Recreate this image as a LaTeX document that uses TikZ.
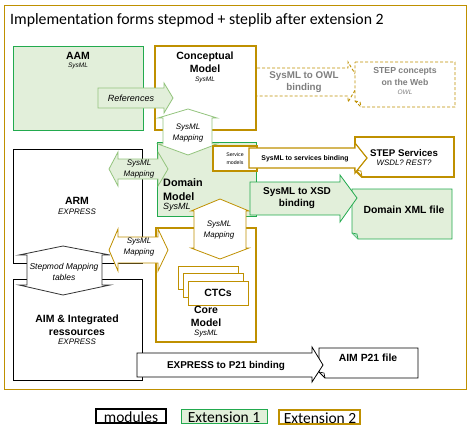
\documentclass[tikz,border=0pt]{standalone}
\usepackage{fontspec}
\setmainfont{Liberation Sans}
\newfontfamily\calibri[Ligatures=NoCommon]{Carlito}
\usetikzlibrary{positioning}
\definecolor{extGold}{HTML}{BF9000}
\definecolor{extGreen}{HTML}{22AA4E}
\definecolor{lightGreen}{HTML}{E2EFDA}
\definecolor{arrowGreen}{HTML}{93C47D}
\definecolor{webGray}{HTML}{7F7F7F}
\newcommand{\fs}[2]{\fontsize{#1}{#2}\selectfont}

\begin{document}
\begin{tikzpicture}[x=1pt,y=-1pt,
  modbox/.style={draw=black,fill=white,line width=0.8pt},
  extone/.style={draw=extGreen,fill=lightGreen,line width=0.8pt},
  exttwo/.style={draw=extGold,fill=white,line width=1.8pt},
  webline/.style={draw=extGold,line width=0.9pt,dash pattern=on 3pt off 2pt},
  txt/.style={inner sep=0pt,align=center},
  bold/.style={txt,font=\bfseries\fs{10.5}{13}},
  typ/.style={txt,font=\itshape\fs{6.5}{8}},
  maplbl/.style={txt,font=\itshape\fs{8}{11}}]
\useasboundingbox (0,0) rectangle (470,434);

% frame and title
\draw[extGold,line width=0.8pt] (4,5) rectangle (466,389);
\node[anchor=base west,inner sep=0pt,font=\calibri\fs{15.8}{18}] (title) at (10,24)
  {Implementation forms stepmod + steplib after extension 2};

% top row
\draw[extone] (13,46) rectangle (143,130);
\node[bold] (aam) at (78,56) {AAM};
\node[typ] (aamlang) at (78,66) {SysML};
\draw[exttwo] (155,46) rectangle (256,130);
\node[bold] (concept) at (205,62.5) {Conceptual\\Model};
\node[typ] (conceptlang) at (205,80) {SysML};

% web binding (dashed)
\draw[webline,fill=white] (257,68) -- (348,68) -- (348,62) -- (360,82) -- (348,102) -- (348,96) -- (257,96);
\draw[webline,fill=white] (355,62) -- (455,62) -- (455,107) -- (361,107) -- (355,101) -- cycle;
\draw[webline] (355,101) -- (360,102) -- (361,107);
\node[txt,text=webGray,font=\bfseries\fs{9.8}{12}] (owlbind) at (304,82) {SysML to OWL\\binding};
\node[txt,text=webGray,font=\bfseries\fs{8.7}{12}] (web) at (405,77) {STEP concepts\\on the Web};
\node[typ,text=webGray] (weblang) at (405,92) {OWL};

% references
\draw[draw=arrowGreen,fill=lightGreen,line width=0.8pt]
  (98,88) -- (164,88) -- (164,83) -- (173,98) -- (164,113) -- (164,108) -- (98,108) -- cycle;
\node[txt,font=\itshape\fs{9}{11}] (refs) at (131,98) {References};

% middle row
\draw[extone] (157,142) rectangle (256,216);
\node[bold,anchor=west,align=left,font=\bfseries\fs{10.8}{14}] (domain) at (163,190) {Domain\\Model};
\node[txt,anchor=west,font=\itshape\fs{9}{11}] (domainlang) at (163,207) {SysML};
\draw[modbox] (13,149) rectangle (142,263);
\node[bold] (arm) at (77,201) {ARM};
\node[txt,font=\itshape\fs{8}{10}] (armlang) at (77,212) {EXPRESS};

% bottom row
\draw[modbox] (13,279) rectangle (142,380);
\node[bold] (aim) at (77,325.5) {AIM \& Integrated\\ressources};
\node[txt,font=\itshape\fs{8}{10}] (aimlang) at (77,342) {EXPRESS};
\draw[exttwo] (156,228) rectangle (256,342);
\draw[extGold,fill=white,line width=0.8pt] (178,266) rectangle (238,289);
\draw[extGold,fill=white,line width=0.8pt] (183,273) rectangle (243,297);
\draw[extGold,fill=white,line width=0.8pt] (188,281) rectangle (248,305);
\node[bold,font=\bfseries\fs{10.5}{12}] (ctc) at (218,293) {CTCs};
\node[bold] (core) at (206,316.5) {Core\\Model};
\node[txt,font=\itshape\fs{7.8}{10}] (corelang) at (206,334) {SysML};

% mapping arrows
\draw[draw=arrowGreen,fill=white,line width=0.8pt]
  (188,109) -- (217,118) -- (212,118) -- (212,144) -- (217,144) -- (188,155)
  -- (158,144) -- (163,144) -- (163,118) -- (158,118) -- cycle;
\node[maplbl] (mapcd) at (188,133) {SysML\\Mapping};
\draw[draw=arrowGreen,fill=lightGreen,line width=0.8pt]
  (109,169) -- (118,152) -- (118,159) -- (158,159) -- (158,152) -- (168,169)
  -- (158,186) -- (158,179) -- (118,179) -- (118,186) -- cycle;
\node[maplbl] (mapad) at (139,169.5) {SysML\\Mapping};
\draw[draw=extGold,fill=white,line width=0.8pt]
  (220,199) -- (249,211) -- (246,211) -- (246,248) -- (249,248) -- (220,259)
  -- (191,248) -- (194,248) -- (194,211) -- (191,211) -- cycle;
\node[maplbl] (mapdc) at (219,230) {SysML\\Mapping};
\draw[draw=extGold,fill=white,line width=0.8pt]
  (109,250) -- (118,229) -- (118,237) -- (158,237) -- (158,229) -- (168,250)
  -- (158,271) -- (158,263) -- (118,263) -- (118,271) -- cycle;
\node[maplbl] (mapac) at (139,247.5) {SysML\\Mapping};
\draw[draw=black!80,fill=white,line width=0.8pt]
  (63,246) -- (110,255) -- (102,255) -- (102,285) -- (110,285) -- (63,295)
  -- (19,285) -- (27,285) -- (27,255) -- (19,255) -- cycle;
\node[txt,font=\itshape\fs{8.5}{11}] (stepmod) at (64,271.5) {Stepmod Mapping\\tables};

% services
\draw[draw=extGold,fill=white,line width=1.5pt] (213,146) rectangle (257,171);
\node[txt,font=\fs{5.2}{8}] (svcmod) at (235,159) {Service\\models};
\draw[exttwo] (355,137) -- (454,137) -- (454,177) -- (362,177) -- (355,170) -- cycle;
\draw[extGold,line width=0.8pt] (355,170) -- (361,171) -- (362,177);
\node[bold,font=\bfseries\fs{9.7}{12}] (services) at (404,153) {STEP Services};
\node[txt,font=\itshape\fs{7.9}{10}] (serviceslang) at (404,163) {WSDL? REST?};
\draw[draw=extGold,fill=white,line width=1.2pt]
  (249,148) -- (355,148) -- (355,143) -- (367,158) -- (355,173) -- (355,168) -- (249,168) -- cycle;
\node[txt,font=\bfseries\fs{6.9}{8}] (svcbind) at (305,159) {SysML to services binding};

% xml
\draw[extone] (352,189) -- (452,189) -- (452,239) -- (358,239) -- (352,233) -- cycle;
\draw[draw=extGreen,fill=extGreen!35,line width=0.6pt] (352,233) -- (357,234) -- (358,239);
\node[bold,font=\bfseries\fs{10.4}{12}] (xml) at (404,210) {Domain XML file};
\draw[draw=extGreen,fill=lightGreen,line width=0.8pt]
  (250,182) -- (340,182) -- (340,175) -- (357,198) -- (340,222) -- (340,215) -- (250,215) -- cycle;
\node[bold,font=\bfseries\fs{10}{12}] (xsd) at (297,198) {SysML to XSD\\binding};

% p21
\draw[modbox] (319,348) -- (418,348) -- (418,378) -- (325,378) -- (319,372) -- cycle;
\draw[black,line width=0.6pt] (319,372) -- (324,373) -- (325,378);
\node[bold,font=\bfseries\fs{10.4}{12}] (p21file) at (368,358) {AIM P21 file};
\draw[draw=black,fill=white,line width=0.8pt]
  (137,353) -- (312,353) -- (312,347) -- (323,365) -- (312,382) -- (312,377) -- (137,377) -- cycle;
\node[bold,font=\bfseries\fs{9.9}{12}] (p21bind) at (226,366) {EXPRESS to P21 binding};

% legend
\draw[black,line width=1.8pt] (96,409) rectangle (166,423);
\node[anchor=base,inner sep=0pt,font=\calibri\fs{15.5}{18}] (legmod) at (131,422) {modules};
\draw[extone] (181,409) rectangle (267,423);
\node[anchor=base,inner sep=0pt,font=\calibri\fs{15.5}{18}] (legone) at (224,422) {Extension 1};
\draw[extGold,line width=1.8pt] (279,410) rectangle (360,424);
\node[anchor=base,inner sep=0pt,font=\calibri\fs{15.5}{18}] (legtwo) at (320,423) {Extension 2};
\end{tikzpicture}
\end{document}
